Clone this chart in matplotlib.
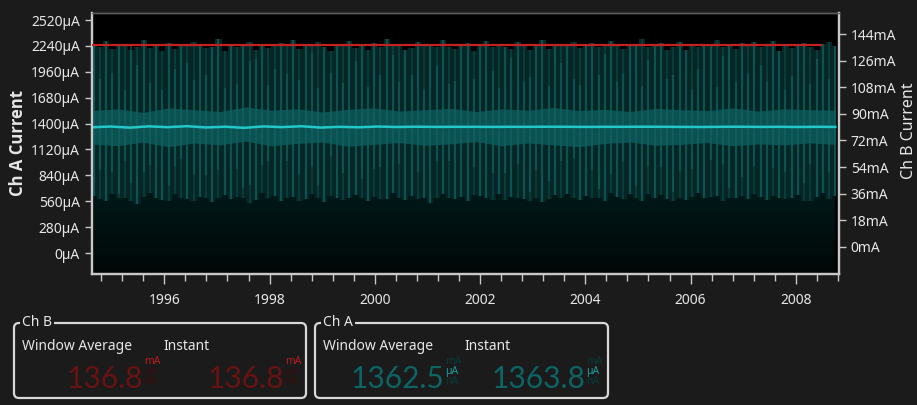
import matplotlib.pyplot as plt
import matplotlib.patches as mpatches
import matplotlib.transforms as mtransforms
import numpy as np

plt.rcParams["font.family"] = ["Noto Sans", "DejaVu Sans"]

# ---- data ----
years = [1996, 1998, 2000, 2002, 2004, 2006, 2008]
a_ticks = [0, 280, 560, 840, 1120, 1400, 1680, 1960, 2240, 2520]
b_ticks = [0, 18, 36, 54, 72, 90, 108, 126, 144]

# Ch A raw samples: top / bottom of each spike (uA)
spike_top = [2250, 2230, 2290, 2210, 2240, 2260, 2200, 2230, 2300, 2220, 2250, 2190, 2270, 2210, 2240, 2250, 2280, 2260, 2220, 2230,
             2310, 2190, 2250, 2230, 2240, 2280, 2200, 2260, 2220, 2250, 2270, 2240, 2300, 2210, 2250, 2260, 2280, 2230, 2190, 2260,
             2240, 2290, 2220, 2250, 2200, 2270, 2230, 2310, 2240, 2250, 2200, 2220, 2280, 2260, 2240, 2230, 2300, 2230, 2210, 2250,
             2270, 2180, 2240, 2290, 2230, 2260, 2230, 2210, 2280, 2250, 2200, 2240, 2300, 2210, 2260, 2240, 2250, 2280, 2220, 2240,
             2270, 2230, 2250, 2290, 2250, 2210, 2260, 2240, 2310, 2230, 2250, 2270, 2200, 2230, 2280, 2200, 2260, 2230, 2250, 2240,
             2300, 2230, 2260, 2210, 2270, 2240, 2280, 2230, 2250, 2290, 2190, 2260, 2220, 2240, 2270, 2230, 2200, 2260, 2280, 2240]
spike_bot = [620, 580, 560, 640, 600, 590, 560, 530, 610, 650, 600, 570, 560, 640, 600, 580, 560, 610, 590, 550,
             600, 630, 580, 610, 600, 540, 570, 650, 590, 620, 560, 600, 610, 560, 580, 640, 600, 550, 620, 600,
             570, 590, 630, 600, 560, 610, 580, 580, 650, 600, 570, 620, 580, 600, 540, 590, 640, 600, 580, 610,
             560, 630, 620, 590, 570, 640, 570, 610, 600, 580, 560, 600, 550, 580, 630, 590, 640, 600, 570, 620,
             600, 590, 560, 650, 610, 580, 640, 600, 560, 640, 600, 630, 580, 560, 590, 570, 610, 650, 590, 610,
             620, 560, 600, 600, 620, 580, 640, 610, 570, 620, 600, 580, 590, 630, 560, 560, 610, 650, 580, 620]
# length of the brighter streaks inside the band (uA)
streak_top = [2250, 1880, 2290, 1950, 2240, 1760, 2260, 2030, 2300, 1840, 2250, 1760, 2270, 1990, 2240, 2050, 1870, 2260, 1920, 2230,
              2310, 1790, 2250, 1830, 2240, 2080, 2100, 2260, 1820, 1990, 2270, 1940, 2300, 1870, 2250, 2160, 1780, 2230, 1950, 2260,
              1840, 2290, 2080, 2250, 1800, 2270, 1930, 2310, 2140, 1850, 2200, 1920, 2280, 1760, 2240, 2020, 2300, 1830, 1860, 2250,
              2270, 1880, 2240, 2290, 1970, 1790, 2230, 2110, 2280, 1850, 1900, 2240, 2300, 1810, 2260, 2060, 2250, 1880, 1820, 2240,
              2270, 1930, 2150, 2290, 1850, 1940, 2260, 2240, 1810, 2090, 2250, 2270, 1880, 1930, 2280, 2200, 1760, 1990, 2250, 2240,
              1800, 2130, 2260, 1850, 2270, 1940, 2280, 2030, 1850, 2290, 2190, 1760, 1910, 2240, 2270, 1830, 2100, 2260, 1880, 2240]
streak_bot = [620, 900, 560, 880, 640, 990, 760, 530, 880, 950, 600, 570, 720, 940, 1020, 580, 860, 610, 840, 550,
              900, 630, 580, 910, 700, 740, 570, 950, 990, 620, 560, 1000, 610, 860, 580, 940, 720, 550, 1050, 600,
              870, 590, 630, 800, 560, 910, 930, 580, 650, 960, 570, 620, 880, 600, 540, 990, 640, 1000, 580, 610,
              560, 930, 620, 590, 870, 640, 870, 610, 960, 580, 660, 900, 550, 780, 630, 990, 640, 1030, 570, 620,
              900, 690, 560, 850, 610, 980, 640, 720, 560, 940, 600, 930, 580, 660, 890, 570, 910, 650, 590, 1010,
              620, 960, 700, 600, 820, 580, 940, 610, 570, 920, 600, 880, 590, 630, 760, 960, 610, 650, 880, 620]
# dense core of the signal (uA)
core_hi = [1540, 1560, 1520, 1570, 1550, 1530, 1580, 1545, 1560, 1525, 1555, 1570, 1535, 1550, 1565,
           1530, 1560, 1545, 1575, 1540, 1555, 1530, 1565, 1550, 1540, 1570, 1535, 1560, 1550, 1545]
core_lo = [1180, 1160, 1200, 1150, 1190, 1170, 1210, 1160, 1185, 1200, 1155, 1175, 1195, 1165, 1180,
           1205, 1160, 1190, 1170, 1150, 1185, 1200, 1165, 1175, 1195, 1160, 1180, 1170, 1190, 1175]
# Ch A window average (uA)
avg_a = [1360, 1368, 1356, 1370, 1361, 1372, 1358, 1366, 1354, 1369, 1362, 1371, 1357, 1365, 1360, 1368,
         1363, 1366, 1364, 1365, 1365, 1364, 1365, 1365, 1366, 1365, 1364, 1365, 1365, 1366, 1365, 1364,
         1363, 1365, 1366, 1364, 1365, 1363, 1365, 1364]
# Ch B window average (mA)
avg_b = [136.8, 136.8]

bg = "#1b1b1b"
fg = "#e6e6e6"
spine = "#c8c8c8"

fig = plt.figure(figsize=(9.17, 4.05), dpi=100, facecolor=bg)
ax = fig.add_axes([91.7 / 917, 131 / 405, (839 - 91.7) / 917, 261 / 405])
ax.set_facecolor("#000000")
axb = ax.twinx()

x0, x1 = 1994.62, 2008.82
ax.set_xlim(x0, x1)
ax.set_ylim(-227, 2596)
axb.set_ylim(-18.5, 158.4)

xs = np.linspace(1994.66, 2008.75, len(spike_top))
xc = np.linspace(1994.62, 2008.75, len(core_hi))
xa = np.linspace(1994.62, 2008.75, len(avg_a))

# dark fill under the signal, fading to black
low = ax.fill_between(xs, -227, spike_bot, color="#031c1c", lw=0, step="mid", zorder=1)
grad = np.zeros((100, 1, 4))
grad[..., 1] = np.linspace(0.10, 0.025, 100)[:, None]
grad[..., 2] = np.linspace(0.10, 0.025, 100)[:, None]
grad[..., 3] = 1
im = ax.imshow(grad, extent=[x0, x1, -227, 700], aspect="auto", origin="upper", zorder=1.5)
im.set_clip_path(low.get_paths()[0], ax.transData)

# raw spikes: band envelope, fine texture, brighter streaks
ax.fill_between(xs, spike_bot, spike_top, color="#062626", lw=0, step="mid", zorder=2)
ax.vlines(xs, spike_bot, spike_top, color="#0b4040", lw=1.2, zorder=3)
ax.vlines(xs, streak_bot, streak_top, color="#106060", alpha=0.6, lw=1.6, zorder=3)
# dense core
ax.fill_between(xc, core_lo, core_hi, color="#0f6060", alpha=0.75, lw=0, zorder=4)
# averages
ax.plot(xa, avg_a, color="#23c9c9", lw=1.8, zorder=6)
axb.plot([xa[0], 2008.47], avg_b, color="#c42222", lw=1.6, zorder=6)

# axes styling
for a in (ax, axb):
    for s in a.spines.values():
        s.set_color(spine)
        s.set_linewidth(1.6)
    a.spines["top"].set_color("#5a5a5a")
    a.spines["top"].set_linewidth(1)
    a.tick_params(colors=spine, labelcolor=fg, labelsize=10, length=5, width=1)

ax.set_yticks(a_ticks)
ax.set_yticklabels([f"{v}µA" for v in a_ticks])
axb.set_yticks(b_ticks)
axb.set_yticklabels([f"{v}mA" for v in b_ticks])
ax.set_xticks(years)
ax.set_xticklabels([str(y) for y in years])
ax.set_xticks(np.arange(1994.8, 2008.81, 0.4), minor=True)
ax.tick_params(axis="x", which="major", length=7, pad=7)
ax.tick_params(axis="x", which="minor", length=5, width=1, colors=spine)
ax.set_ylabel("Ch A Current", color=fg, fontsize=12, fontweight="bold",
              family=["Open Sans", "DejaVu Sans"])
axb.set_ylabel("Ch B Current", color=fg, fontsize=11.5)
ax.yaxis.set_label_coords((27 - 91.7) / 747.3, 0.5)
axb.yaxis.set_label_coords((901 - 91.7) / 747.3, 0.55)

# ---- readout panels ----
ident = mtransforms.IdentityTransform()
H = 405


def panel(xl, xr, title):
    box = mpatches.FancyBboxPatch((xl, H - 398), xr - xl, 75,
                                  boxstyle="round,pad=0,rounding_size=5",
                                  fc="none", ec="#d8d8d8", lw=1.6, transform=ident)
    fig.patches.append(box)
    fig.text((xl + 8) / 917, (H - 323) / H, title, color=fg, fontsize=10, va="center",
             bbox=dict(fc=bg, ec="none", pad=1.5))
    fig.text((xl + 8) / 917, (H - 346) / H, "Window Average", color=fg, fontsize=10, va="center")
    fig.text((xl + 149) / 917, (H - 346) / H, "Instant", color=fg, fontsize=10, va="center")


def readout(xr, value, col, units_col):
    fig.text(xr / 917, (H - 388) / H, value, color=col, fontsize=21.5, ha="right",
             va="baseline", family=["Lato", "DejaVu Sans"])
    for i, (u, c) in enumerate(zip(["mA", "µA", "nA"], units_col)):
        fig.text((xr + 1) / 917, (H - 361 - 10.5 * i) / H, u, color=c, fontsize=7.5,
                 fontweight="bold", va="center")


panel(14, 306, "Ch B")
panel(315, 608, "Ch A")
red_units = ["#b81c1c", "#3a0c0c", "#3a0c0c"]
teal_units = ["#0b3a3a", "#1a9a9a", "#0b3a3a"]
readout(143, f"{avg_b[0]:.1f}", "#6a1212", red_units)
readout(284, f"{avg_b[-1]:.1f}", "#6a1212", red_units)
readout(444, "1362.5", "#0d6464", teal_units)
readout(585, "1363.8", "#0d6464", teal_units)

fig.savefig("out.png", dpi=100, facecolor=bg)
